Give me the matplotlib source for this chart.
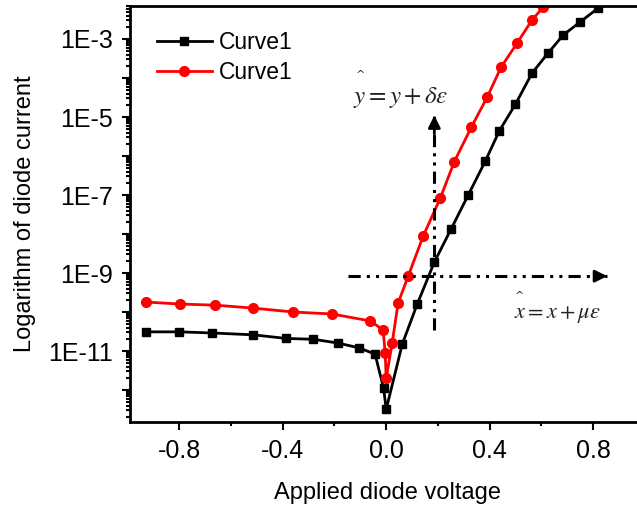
import matplotlib
matplotlib.use("Agg")
import matplotlib.pyplot as plt
from matplotlib.ticker import FixedLocator, FuncFormatter, MultipleLocator
import numpy as np

# ---- data ----
black_v = [-0.929, -0.80, -0.672, -0.514, -0.386, -0.282, -0.186, -0.104, -0.043, -0.010, 0.0,
           0.062, 0.12, 0.186, 0.251, 0.317, 0.383, 0.437, 0.499, 0.564, 0.626, 0.684, 0.75, 0.819]
black_i = [3.1e-11, 3.1e-11, 2.9e-11, 2.6e-11, 2.1e-11, 2.0e-11, 1.6e-11, 1.2e-11, 8.3e-12, 1.1e-12, 3.2e-13,
           1.5e-11, 1.6e-10, 1.9e-9, 1.35e-8, 1.0e-7, 7.4e-7, 4.4e-6, 2.1e-5, 1.35e-4, 4.4e-4, 1.26e-3, 2.75e-3, 6.2e-3]

red_v = [-0.928, -0.796, -0.661, -0.514, -0.359, -0.209, -0.062, -0.012, -0.004, 0.0, 0.023,
         0.046, 0.085, 0.143, 0.209, 0.263, 0.329, 0.39, 0.444, 0.506, 0.564, 0.607]
red_i = [1.8e-10, 1.6e-10, 1.5e-10, 1.26e-10, 1.0e-10, 8.9e-11, 5.9e-11, 3.5e-11, 8.9e-12, 2.0e-12, 1.6e-11,
         1.7e-10, 8.3e-10, 8.9e-9, 8.3e-8, 7.1e-7, 5.5e-6, 3.2e-5, 1.9e-4, 7.9e-4, 3.1e-3, 6.6e-3]

legend_labels = ["Curve1", "Curve1"]
x_ticks = [-0.8, -0.4, 0.0, 0.4, 0.8]
y_decades = list(range(-13, -1))

# perturbation arrows
h_arrow_x = [-0.147, 0.854]
h_arrow_y = 8.3e-10
v_arrow_x = 0.186
v_arrow_y = [3.5e-11, 1.1e-5]

plt.rcParams["font.family"] = ["Liberation Sans", "DejaVu Sans"]
plt.rcParams["mathtext.fontset"] = "stix"

fig = plt.figure(figsize=(6.37, 5.08), dpi=100)
ax = fig.add_axes([130 / 637, 86 / 508, 515 / 637, 416 / 508])

ax.plot(black_v, black_i, "-s", color="black", lw=2, ms=6, label=legend_labels[0])
ax.plot(red_v, red_i, "-o", color="red", lw=2, ms=7, label=legend_labels[1])

ax.set_yscale("log")
ax.set_xlim(-0.99, 1.0)
ax.set_ylim(10 ** -12.82, 10 ** -2.154)

ax.xaxis.set_major_locator(FixedLocator(x_ticks))
ax.xaxis.set_minor_locator(MultipleLocator(0.2))
ax.xaxis.set_major_formatter(FuncFormatter(lambda v, p: f"{v:.1f}"))
ax.yaxis.set_major_locator(FixedLocator([10.0 ** e for e in y_decades]))
minor_y = [m * 10.0 ** e for e in y_decades for m in range(2, 10)]
ax.yaxis.set_minor_locator(FixedLocator(minor_y))
ax.yaxis.set_major_formatter(FuncFormatter(
    lambda v, p: f"1E{int(round(np.log10(v)))}" if int(round(np.log10(v))) % 2 else ""))
ax.yaxis.set_minor_formatter(FuncFormatter(lambda v, p: ""))

ax.tick_params(which="both", direction="out", width=1.5, labelsize=18)
ax.tick_params(which="major", length=6)
ax.tick_params(which="minor", length=3)
ax.tick_params(axis="x", pad=6)
ax.tick_params(axis="y", pad=6)
for s in ax.spines.values():
    s.set_linewidth(2)

ax.set_xlabel("Applied diode voltage", fontsize=17, labelpad=14)
ax.set_ylabel("Logarithm of diode current", fontsize=17, labelpad=9)

ax.legend(loc="upper left", bbox_to_anchor=(0.012, 0.99), frameon=False, fontsize=16.5,
          handlelength=2.4, handletextpad=0.3, labelspacing=0.33)

# dash-dot-dot arrows
dd = (0, (4, 2, 1, 2, 1, 2))
ax.plot(h_arrow_x, [h_arrow_y, h_arrow_y], color="black", lw=2.2, ls=dd)
ax.annotate("", xy=(h_arrow_x[1], h_arrow_y), xytext=(h_arrow_x[1] - 0.05, h_arrow_y),
            arrowprops=dict(arrowstyle="-|>", color="black", lw=2, mutation_scale=18, shrinkA=0, shrinkB=0))
ax.plot([v_arrow_x, v_arrow_x], v_arrow_y, color="black", lw=2.2, ls=dd)
ax.annotate("", xy=(v_arrow_x, v_arrow_y[1]), xytext=(v_arrow_x, v_arrow_y[1] / 3),
            arrowprops=dict(arrowstyle="-|>", color="black", lw=2, mutation_scale=18, shrinkA=0, shrinkB=0))

ax.text(-0.128, 2.3e-5, r"$y = y + \delta\varepsilon$", fontsize=18, color="#222222", va="baseline")
ax.text(-0.10, 1.2e-4, "^", fontsize=8, color="#222222", ha="center", va="center", family="DejaVu Serif")
ax.text(0.495, 7.1e-11, r"$x = x + \mu\varepsilon$", fontsize=16, color="#222222", va="baseline")
ax.text(0.514, 2.6e-10, "^", fontsize=8, color="#222222", ha="center", va="center", family="DejaVu Serif")

fig.savefig("out.png", dpi=100)
